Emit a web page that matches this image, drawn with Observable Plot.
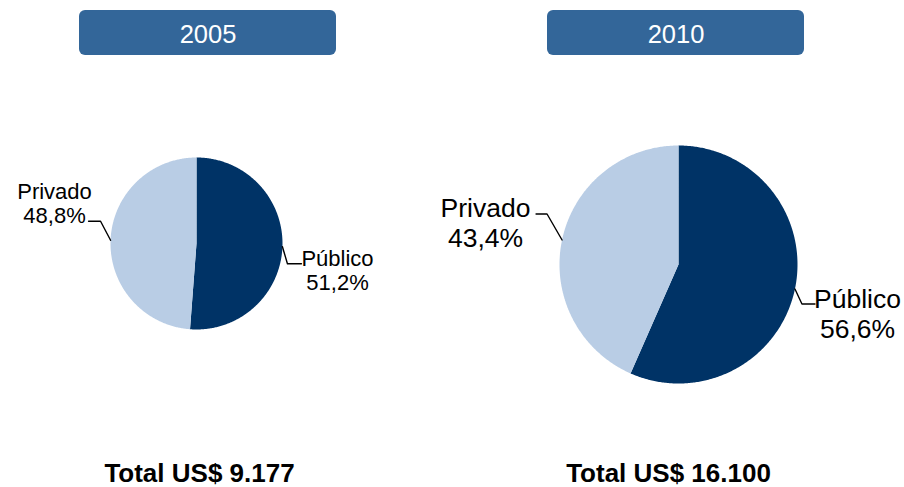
<!DOCTYPE html>
<html>
<head>
<meta charset="utf-8">
<script src="https://cdn.jsdelivr.net/npm/d3@7"></script>
<script src="https://cdn.jsdelivr.net/npm/@observablehq/plot@0.6"></script>
<style>
  html, body { margin: 0; padding: 0; background: #fff; }
  #chart { width: 904px; height: 487px; }
</style>
</head>
<body>
<div id="chart"></div>
<script>
// ---- Data ----
const years = ["2005", "2010"];
const categories = ["Público", "Privado"];
const shares2005 = [51.2, 48.8];
const shares2010 = [56.6, 43.4];
const totalLabels = ["Total US$ 9.177", "Total US$ 16.100"];

// ---- Layout (positions / sizes / styles) ----
const W = 904, H = 487;
const font = "'Liberation Sans', Arial, Helvetica, sans-serif";
const colors = {"Público": "#003366", "Privado": "#b9cde5"};
const headerFill = "#336699";
const panels = [
  {year: years[0], shares: shares2005, total: totalLabels[0], cx: 196, cy: 243, r: 86,
   headerX1: 79, headerX2: 336, totalX: 199, labelSize: 22, lineH: 1.06,
   labels: {
     "Privado": {tx: 54, ty: 198, elbow: [-10, -19], tail: -12},
     "Público": {tx: 337, ty: 265, elbow: [5, 17], tail: 14}
   }},
  {year: years[1], shares: shares2010, total: totalLabels[1], cx: 678, cy: 264, r: 119,
   headerX1: 547, headerX2: 804, totalX: 668, labelSize: 26.5, lineH: 1.1,
   labels: {
     "Privado": {tx: 485, ty: 215, elbow: [-15, -26], tail: -11},
     "Público": {tx: 857, ty: 306, elbow: [7, 15], tail: 13}
   }}
];

// ---- Build slice polygons and leader lines from the data ----
const pie = d3.pie().sort(null).value(d => d.value);
const slicePts = [];
const leaderPts = [];
const labelRows = [];
panels.forEach((p, pi) => {
  const arcs = pie(categories.map((c, i) => ({cat: c, value: p.shares[i]})));
  arcs.forEach(a => {
    const key = p.year + "-" + a.data.cat;
    slicePts.push({key, cat: a.data.cat, x: p.cx, y: p.cy});
    const n = Math.max(2, Math.ceil((a.endAngle - a.startAngle) / 0.01));
    for (let k = 0; k <= n; k++) {
      const t = a.startAngle + (a.endAngle - a.startAngle) * k / n;
      slicePts.push({key, cat: a.data.cat, x: p.cx + p.r * Math.sin(t), y: p.cy - p.r * Math.cos(t)});
    }
    slicePts.push({key, cat: a.data.cat, x: p.cx, y: p.cy});
    // leader line
    const mid = (a.startAngle + a.endAngle) / 2;
    const ex = p.cx + p.r * Math.sin(mid), ey = p.cy - p.r * Math.cos(mid);
    const L = p.labels[a.data.cat];
    const bx = ex + L.elbow[0], by = ey + L.elbow[1];
    leaderPts.push({key, x: ex, y: ey}, {key, x: bx, y: by}, {key, x: bx + L.tail, y: by});
    labelRows.push({
      text: a.data.cat + "\n" + a.data.value.toFixed(1).replace(".", ",") + "%",
      x: L.tx, y: L.ty, size: p.labelSize, lineH: p.lineH
    });
  });
});

const headers = panels.map(p => ({year: p.year, x1: p.headerX1, x2: p.headerX2}));
const totals = panels.map(p => ({text: p.total, x: p.totalX}));

const chart = Plot.plot({
  width: W,
  height: H,
  margin: 0,
  style: {fontFamily: font, background: "#fff"},
  x: {domain: [0, W], range: [0, W], axis: null},
  y: {domain: [0, H], range: [0, H], axis: null},
  marks: [
    Plot.rect(headers, {x1: "x1", x2: "x2", y1: () => 10, y2: () => 55, fill: headerFill, rx: 6}),
    Plot.text(headers, {x: d => (d.x1 + d.x2) / 2, y: () => 42, text: "year", fill: "white",
      fontSize: 25.5, lineAnchor: "top", dy: -0.71 * 25.5, textAnchor: "middle"}),
    Plot.line(slicePts, {x: "x", y: "y", z: "key", fill: d => colors[d.cat], stroke: "none", curve: "linear"}),
    Plot.line(leaderPts, {x: "x", y: "y", z: "key", stroke: "#000", strokeWidth: 1.4, curve: "linear"}),
    ...labelRows.map(l => Plot.text([l], {x: "x", y: "y", text: "text", fill: "#000",
      fontSize: l.size, lineHeight: l.lineH, lineAnchor: "top", textAnchor: "middle",
      dy: -0.71 * l.size})),
    Plot.text(totals, {x: "x", y: () => 481, text: "text", fill: "#000", fontSize: 26,
      fontWeight: "bold", lineAnchor: "top", dy: -0.71 * 26, textAnchor: "middle"})
  ]
});
document.getElementById("chart").appendChild(chart);
</script>
</body>
</html>
